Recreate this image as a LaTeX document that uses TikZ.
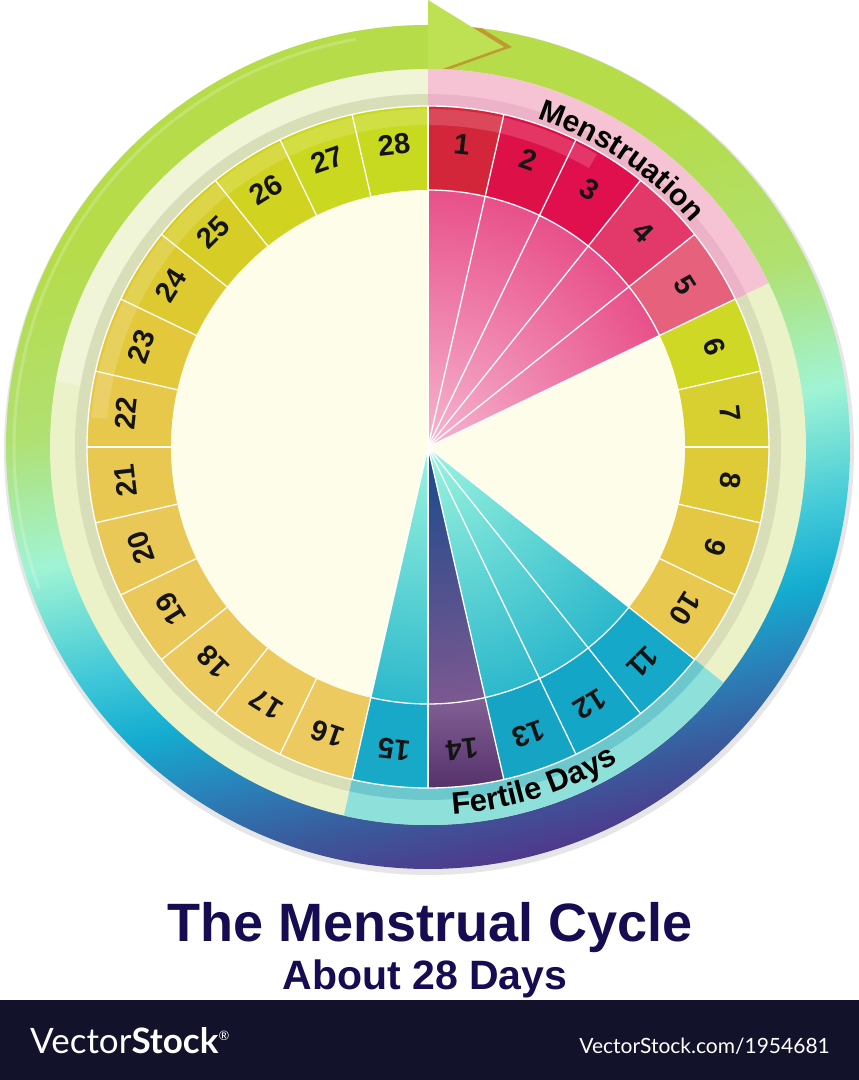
\documentclass[tikz,border=0pt]{standalone}
\usepackage{fontspec}
\setmainfont{Liberation Sans}
\newfontfamily\latofont{Lato}
\usetikzlibrary{decorations.text,calc}

\definecolor{rP}{HTML}{4E3A8C}
\definecolor{rN}{HTML}{3A5A9C}
\definecolor{rB}{HTML}{2A80B8}
\definecolor{rC}{HTML}{14ACD0}
\definecolor{rCt}{HTML}{40C8D8}
\definecolor{rM}{HTML}{A0F4D4}
\definecolor{rLG}{HTML}{B0E070}
\definecolor{rG}{HTML}{B6DC4A}
\pgfdeclareverticalshading{ringshade}{100bp}{color(0bp)=(rP); color(26.7bp)=(rP); color(30.3bp)=(rN); color(33.9bp)=(rB); color(37.8bp)=(rC); color(41.7bp)=(rCt); color(48.3bp)=(rM); color(55.6bp)=(rLG); color(65bp)=(rG); color(100bp)=(rG)}

\definecolor{halo}{HTML}{E6E6E8}
\definecolor{arrowc}{HTML}{BDE153}
\definecolor{arrowsh}{HTML}{C08A2C}
\definecolor{pale}{HTML}{EBF2C8}
\definecolor{paleD}{HTML}{D8DFB8}
\definecolor{mband}{HTML}{F6C3D5}
\definecolor{mbandD}{HTML}{ECB3C8}
\definecolor{fband}{HTML}{8EE0DA}
\definecolor{fbandD}{HTML}{6CC8CC}
\definecolor{cream}{HTML}{FEFDEA}
\definecolor{pinkIn}{HTML}{F6B6D0}
\definecolor{pinkOut}{HTML}{E8508A}
\definecolor{cyanIn}{HTML}{9CF5DE}
\definecolor{cyanOut}{HTML}{2CB8CC}
\definecolor{navyIn}{HTML}{174A8C}
\definecolor{navyOut}{HTML}{7C5890}
\definecolor{titlec}{HTML}{160C52}
\definecolor{barc}{HTML}{12132A}

\definecolor{d1}{HTML}{D3263A}
\definecolor{d2}{HTML}{DE1048}
\definecolor{d3}{HTML}{E0104E}
\definecolor{d4}{HTML}{E3386A}
\definecolor{d5}{HTML}{E6617C}
\definecolor{d6}{HTML}{CFD824}
\definecolor{d7}{HTML}{D8D030}
\definecolor{d8}{HTML}{DFCB38}
\definecolor{d9}{HTML}{E4C843}
\definecolor{d10}{HTML}{E8C84E}
\definecolor{d11}{HTML}{16A8C8}
\definecolor{d12}{HTML}{14A6C6}
\definecolor{d13}{HTML}{16A4C4}
\definecolor{d14}{HTML}{6A3E84}
\definecolor{d15}{HTML}{18A8C8}
\definecolor{d16}{HTML}{ECCA60}
\definecolor{d17}{HTML}{ECCA5E}
\definecolor{d18}{HTML}{EBC95C}
\definecolor{d19}{HTML}{EAC85A}
\definecolor{d20}{HTML}{EAC857}
\definecolor{d21}{HTML}{E9C852}
\definecolor{d22}{HTML}{E8C84A}
\definecolor{d23}{HTML}{E3C83C}
\definecolor{d24}{HTML}{DCCA30}
\definecolor{d25}{HTML}{D6CE26}
\definecolor{d26}{HTML}{D0D320}
\definecolor{d27}{HTML}{CBD820}
\definecolor{d28}{HTML}{C8DA20}

\newcommand\mfont{\bfseries\fontsize{30}{30}\selectfont}
\newcommand\ffont{\bfseries\fontsize{31}{31}\selectfont}

\tikzset{
  sepline/.style={draw=white, line width=1.3pt},
  daynum/.style={font=\bfseries\fontsize{29}{29}\selectfont, text=black!92, inner sep=0pt},
}

\begin{document}
\begin{tikzpicture}[x=1pt,y=1pt]
\useasboundingbox (0,0) rectangle (859,1080);
\fill[white] (0,0) rectangle (859,1080);
\def\cx{428}
\def\cy{633}
\def\s{12.857142857}
\coordinate (c) at (\cx,\cy);

% halo shadow
\fill[halo] (\cx+1,\cy-3) circle (425);

% gradient ring
\begin{scope}
  \clip (c) circle (422);
  \begin{scope}[transform canvas={rotate around={13:(c)}}]
    \shade[shading=ringshade] (\cx-480,\cy-450) rectangle (\cx+480,\cy+450);
  \end{scope}
  \fill[arrowsh, opacity=0.8] (436,1080) -- (512,1033) -- (436,1006) -- cycle;
\end{scope}
% highlight stripe on ring
\draw[white, opacity=0.2, line width=3pt] ($(c)+(100:414)$) arc[start angle=100, end angle=200, radius=414];

% arrow head
\fill[arrowc] (428,1080) -- (504,1033) -- (428,1006) -- cycle;

% pale band
\fill[pale] (c) circle (378);
\fill[white, opacity=0.3] ($(c)+(90:378)$) arc[start angle=90, end angle=170, radius=378]
  -- ($(c)+(170:353)$) arc[start angle=170, end angle=90, radius=353] -- cycle;
\fill[paleD] (c) circle (353);

% menstruation band
\fill[mband] (c) -- ++(90:378) arc[start angle=90, end angle=25.714, radius=378] -- cycle;
\fill[mbandD] (c) -- ++(90:353) arc[start angle=90, end angle=25.714, radius=353] -- cycle;
% fertile band
\fill[fband] (c) -- ++(-38.571:378) arc[start angle=-38.571, end angle=-102.857, radius=378] -- cycle;
\fill[fbandD] (c) -- ++(-38.571:353) arc[start angle=-38.571, end angle=-102.857, radius=353] -- cycle;

% day cells
\foreach \k in {1,...,28}{
  \pgfmathsetmacro\aa{90-(\k-1)*\s}
  \pgfmathsetmacro\ab{90-\k*\s}
  \fill[fill=d\k] ($(c)+(\aa:341)$) arc[start angle=\aa, end angle=\ab, radius=341]
     -- ($(c)+(\ab:257)$) arc[start angle=\ab, end angle=\aa, radius=257] -- cycle;
}
% day 14 gradient
\shade[top color=navyOut!95!white, bottom color=d14!80!black]
  ($(c)+(-77.143:341)$) arc[start angle=-77.143, end angle=-90, radius=341]
  -- ($(c)+(-90:257)$) arc[start angle=-90, end angle=-77.143, radius=257] -- cycle;
% gloss on top cells
\fill[white, opacity=0.16] ($(c)+(60:338)$) arc[start angle=60, end angle=175, radius=338]
  -- ($(c)+(175:322)$) arc[start angle=175, end angle=60, radius=322] -- cycle;

% inner disc
\fill[cream] (c) circle (257);

% menstruation wedges
\begin{scope}
  \clip (c) -- ++(90:257) arc[start angle=90, end angle=25.714, radius=257] -- cycle;
  \shade[inner color=pinkIn, outer color=pinkOut] (c) circle (257);
\end{scope}
% fertile wedges
\begin{scope}
  \clip (c) -- ++(-38.571:257) arc[start angle=-38.571, end angle=-102.857, radius=257] -- cycle;
  \shade[inner color=cyanIn, outer color=cyanOut] (c) circle (257);
\end{scope}
\begin{scope}
  \clip (c) -- ++(-77.143:257) arc[start angle=-77.143, end angle=-90, radius=257] -- cycle;
  \shade[inner color=navyIn, outer color=navyOut] (c) circle (257);
\end{scope}

% separators
\foreach \k in {0,...,27}{
  \draw[sepline] ($(c)+(90-\k*\s:257)$) -- ($(c)+(90-\k*\s:341)$);
}
\foreach \k in {0,...,5,10,11,...,15}{
  \draw[sepline] (c) -- ($(c)+(90-\k*\s:257)$);
}
\draw[sepline] ($(c)+(90:257)$) arc[start angle=90, end angle=25.714, radius=257];
\draw[sepline] ($(c)+(-38.571:257)$) arc[start angle=-38.571, end angle=-102.857, radius=257];
\draw[sepline] (c) circle (341);

% day numbers
\foreach \k in {1,...,28}{
  \pgfmathsetmacro\am{90-(\k-0.5)*\s}
  \pgfmathsetmacro\rot{\am-90}
  \node[daynum, rotate=\rot] (n\k) at ($(c)+(\am:304)$) {\k};
}

% curved labels
\path[decorate, decoration={text along path, text align=center, text={|\mfont|Menstruation}}]
  ($(c)+(80:346)$) arc[start angle=80, end angle=32, radius=346];
\path[decorate, decoration={text along path, text align=center, text={|\ffont|Fertile Days}}]
  ($(c)+(-100:368)$) arc[start angle=-100, end angle=-45, radius=368];

% titles
\node[anchor=base, text=titlec, font=\bfseries\fontsize{54}{54}\selectfont, inner sep=0pt] (title) at (430,138) {The Menstrual Cycle};
\node[anchor=base, text=titlec, font=\bfseries\fontsize{41}{41}\selectfont, inner sep=0pt] (subtitle) at (425,90) {About 28 Days};

% bottom bar
\fill[barc] (0,0) rectangle (859,80);
\node[anchor=base west, text=white, inner sep=0pt, font=\latofont\fontsize{35}{35}\selectfont] (logo) at (30,27) {Vector\textbf{Stock}\raisebox{13pt}{\fontsize{13}{13}\selectfont ®}};
\node[anchor=base east, text=white, inner sep=0pt, font=\latofont\fontsize{21}{21}\selectfont] (url) at (830,27) {VectorStock.com/1954681};
\end{tikzpicture}
\end{document}
